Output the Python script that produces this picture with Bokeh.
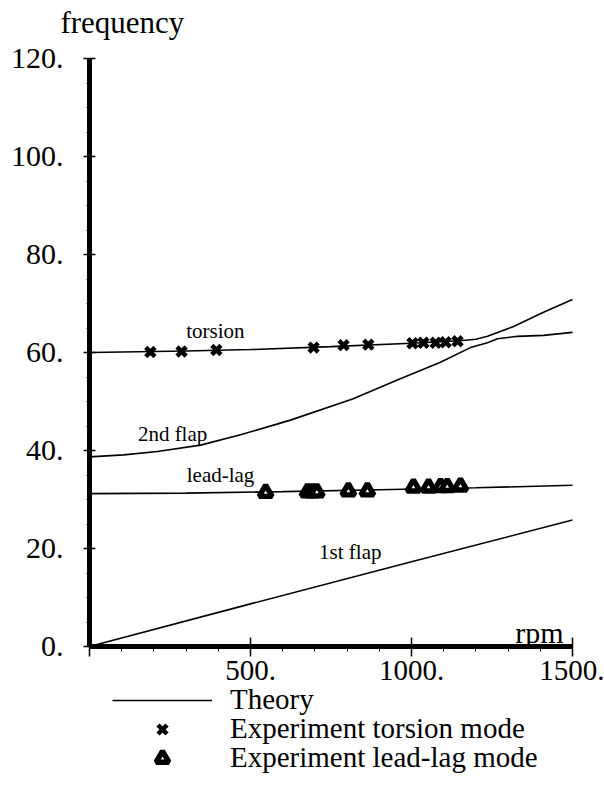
from bokeh.plotting import figure
from bokeh.models import (Range1d, LinearAxis, FixedTicker, Legend, LegendItem,
                          ColumnDataSource, Label)
from bokeh.core.properties import value
from bokeh.embed import file_html
from bokeh.resources import INLINE

# ---------------- data ----------------
rpm_torsion_theory = [0, 300, 500, 750, 1000, 1150, 1200, 1236, 1317, 1410, 1500]
freq_torsion_theory = [60.0, 60.3, 60.6, 61.2, 61.9, 62.4, 62.7, 63.3, 65.3, 68.2, 70.8]

rpm_flap2_theory = [0, 106, 211, 345, 469, 624, 817, 956, 1090, 1183, 1236, 1267, 1329, 1410, 1500]
freq_flap2_theory = [38.7, 39.1, 39.8, 41.1, 43.2, 46.2, 50.5, 54.4, 58.0, 61.0, 62.0, 62.8, 63.3, 63.5, 64.1]

rpm_leadlag_theory = [0, 300, 600, 900, 1200, 1500]
freq_leadlag_theory = [31.2, 31.3, 31.6, 32.0, 32.4, 32.9]

rpm_flap1_theory = [0, 500, 1000, 1500]
freq_flap1_theory = [0.0, 8.7, 17.3, 25.8]

rpm_torsion_exp = [189, 286, 394, 696, 789, 866, 1003, 1037, 1075, 1106, 1143]
freq_torsion_exp = [60.1, 60.2, 60.5, 61.0, 61.5, 61.6, 61.9, 62.0, 62.0, 62.1, 62.3]

rpm_leadlag_exp = [547, 677, 692, 706, 804, 863, 1006, 1053, 1090, 1111, 1152]
freq_leadlag_exp = [31.4, 31.5, 31.5, 31.5, 31.7, 31.7, 32.5, 32.5, 32.6, 32.6, 32.7]

mode_labels = ["torsion", "2nd flap", "lead-lag", "1st flap"]
mode_label_rpm = [391, 258, 407, 810]
mode_label_freq = [64.3, 43.3, 35.1, 19.2]

y_ticks = [0, 20, 40, 60, 80, 100, 120]
y_tick_labels = ["0.", "20.", "40.", "60.", "80.", "100.", "120."]
x_ticks = [0, 500, 1000, 1500]
x_tick_labels = ["", "500.", "1000.", "1500."]

legend_labels = ["Theory", "Experiment torsion mode", "Experiment lead-lag mode"]

# ---------------- layout ----------------
W, H = 604, 792
FONT = "Liberation Serif"
x0_px, x_scale = 89.0, 483.0 / 1500.0       # px of rpm 0, px per rpm
y0_px, y_scale = 646.0, 588.0 / 120.0       # px (from top) of freq 0, px per unit
x_range = Range1d(-x0_px / x_scale, (W - x0_px) / x_scale)
y_range = Range1d(-(H - y0_px) / y_scale, y0_px / y_scale)

p = figure(width=W, height=H, output_backend="svg", toolbar_location=None,
           x_range=x_range, y_range=y_range,
           x_axis_location=None, y_axis_location=None, min_border=0)
p.grid.visible = False
p.outline_line_color = None
p.background_fill_color = "white"
p.border_fill_color = "white"

LW = 1.6
r_theory = p.line(rpm_torsion_theory, freq_torsion_theory, line_color="black", line_width=LW)
p.line(rpm_flap2_theory, freq_flap2_theory, line_color="black", line_width=LW)
p.line(rpm_leadlag_theory, freq_leadlag_theory, line_color="black", line_width=LW)
p.line(rpm_flap1_theory, freq_flap1_theory, line_color="black", line_width=LW)

r_tors = p.scatter(rpm_torsion_exp, freq_torsion_exp, marker="x", size=13,
                   line_color="black", line_width=4.5)
r_ll = p.scatter(rpm_leadlag_exp, freq_leadlag_exp, marker="triangle", size=13,
                 line_color="black", line_width=5.4, fill_color="white")

# axes
xaxis = LinearAxis(fixed_location=0, bounds=(0, 1500),
                   ticker=FixedTicker(ticks=x_ticks, minor_ticks=list(range(0, 1501, 100))))
xaxis.major_label_overrides = dict(zip(x_ticks, x_tick_labels))
yaxis = LinearAxis(fixed_location=0, bounds=(0, 120),
                   ticker=FixedTicker(ticks=y_ticks, minor_ticks=list(range(0, 121, 5))))
yaxis.major_label_overrides = dict(zip(y_ticks, y_tick_labels))
for ax in (xaxis, yaxis):
    ax.axis_line_width = 5
    ax.axis_line_color = "black"
    ax.major_tick_line_width = 1.5
    ax.minor_tick_line_width = 1
    ax.major_label_text_font = FONT
    ax.major_label_text_color = "black"
xaxis.major_label_text_font_size = "29px"
yaxis.major_label_text_font_size = "30px"
xaxis.major_tick_in = 9
xaxis.major_tick_out = 10
xaxis.minor_tick_in = 0
xaxis.minor_tick_out = 5
xaxis.major_label_standoff = 4
yaxis.major_tick_in = 6
yaxis.major_tick_out = 6
yaxis.minor_tick_in = 0
yaxis.minor_tick_out = 3
yaxis.major_label_standoff = 20
p.add_layout(xaxis, "below")
p.add_layout(yaxis, "left")

# mode labels
src = ColumnDataSource(dict(x=mode_label_rpm, y=mode_label_freq, t=mode_labels))
p.text(x="x", y="y", text="t", source=src, text_font=value(FONT), text_font_size="21px",
       text_align="center", text_baseline="middle", text_color="black")

p.add_layout(Label(x=102, y=127.3, text="frequency", text_font=FONT, text_font_size="31px",
                   text_align="center", text_baseline="middle", text_color="black"))
p.add_layout(Label(x=1472, y=2.9, text="rpm", text_font=FONT, text_font_size="30px",
                   text_align="right", text_baseline="alphabetic", text_color="black"))

# legend: one row per Legend so that each row can be placed exactly
legend_renderers = [r_theory, r_tors, r_ll]
legend_row_bottoms = [76, 47, 18]     # px above the bottom edge
for lab, rend, ybot in zip(legend_labels, legend_renderers, legend_row_bottoms):
    lg = Legend(items=[LegendItem(label=lab, renderers=[rend])],
                location=(112, ybot), glyph_width=100, glyph_height=32, label_standoff=18,
                padding=0, margin=0, spacing=0, border_line_color=None,
                background_fill_alpha=0, label_text_font=FONT, label_text_font_size="29px",
                label_text_color="black")
    p.add_layout(lg)

open("out.html", "w").write(file_html(p, INLINE))
